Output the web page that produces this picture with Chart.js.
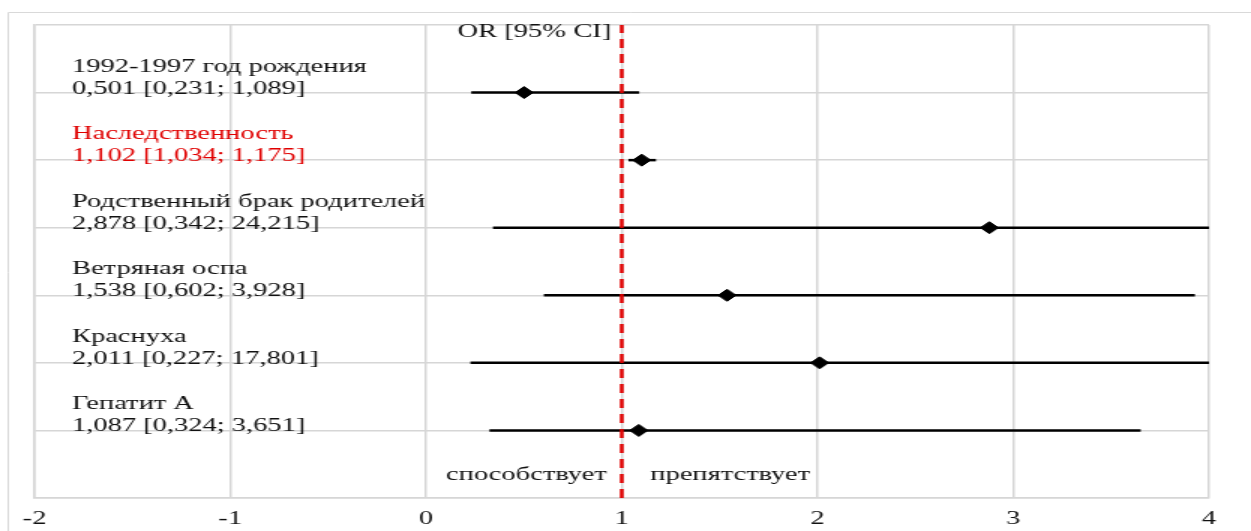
<!DOCTYPE html>
<html>
<head>
<meta charset="utf-8">
<script src="https://cdn.jsdelivr.net/npm/chart.js@4.4.1/dist/chart.umd.min.js"></script>
<style>
    html, body { margin: 0; padding: 0; background: #fff; overflow: hidden; }
    /* the original picture is stretched sideways, so the whole chart is too */
    #wrap { width: 834px; height: 531px; transform: scaleX(1.5); transform-origin: 0 0; }
</style>
</head>
<body>
<div id="wrap"><canvas id="myChart"></canvas></div>
<script>
const factors = ['1992-1997 год рождения', 'Наследственность', 'Родственный брак родителей', 'Ветряная оспа', 'Краснуха', 'Гепатит А'];
const oddsRatio = [0.501, 1.102, 2.878, 1.538, 2.011, 1.087];
const ciLow = [0.231, 1.034, 0.342, 0.602, 0.227, 0.324];
const ciHigh = [1.089, 1.175, 24.215, 3.928, 17.801, 3.651];
const xTicks = [-2, -1, 0, 1, 2, 3, 4];
const highlighted = 'Наследственность';

const serif = '"Liberation Serif", "Times New Roman", serif';
const red = '#e00000';

// rows go from top (6) to bottom (1)
const rowY = factors.map((f, i) => factors.length - i);

function fmt(v) {
    return v.toFixed(3).replace('.', ',');
}

const ciSets = factors.map((f, i) => {
    return {
        type: 'line',
        label: f,
        data: [{ x: ciLow[i], y: rowY[i] }, { x: ciHigh[i], y: rowY[i] }],
        borderColor: '#000',
        borderWidth: 2.5,
        pointRadius: 0,
        order: 2
    };
});

const textPlugin = {
    id: 'texts',
    beforeDraw(chart) {
        const ctx = chart.ctx;
        ctx.save();
        ctx.strokeStyle = '#d9d9d9';
        ctx.lineWidth = 1;
        ctx.beginPath();
        ctx.moveTo(5.5, chart.height + 5);
        ctx.lineTo(5.5, 12.5);
        ctx.lineTo(chart.width + 5, 12.5);
        ctx.stroke();
        ctx.restore();
    },
    afterDraw(chart) {
        const ctx = chart.ctx;
        const x = chart.scales.x;
        const y = chart.scales.y;
        const left = chart.chartArea.left + 25;
        const one = x.getPixelForValue(1);
        ctx.save();
        ctx.font = '19px ' + serif;
        ctx.textBaseline = 'alphabetic';
        factors.forEach((f, i) => {
            const py = y.getPixelForValue(rowY[i]);
            ctx.fillStyle = f === highlighted ? red : '#111';
            ctx.textAlign = 'left';
            ctx.fillText(f, left, py - 21);
            ctx.fillText(fmt(oddsRatio[i]) + ' [' + fmt(ciLow[i]) + '; ' + fmt(ciHigh[i]) + ']', left, py + 1);
        });
        ctx.fillStyle = '#111';
        ctx.textAlign = 'right';
        ctx.fillText('OR [95% CI]', one - 7, chart.chartArea.top + 12);
        ctx.fillText('способствует', one - 10, y.getPixelForValue(0) - 18);
        ctx.textAlign = 'left';
        ctx.fillText('препятствует', one + 19, y.getPixelForValue(0) - 18);
        ctx.restore();
    }
};

const ctx = document.getElementById('myChart').getContext('2d');

const chart = new Chart(ctx, { //eslint-disable-line
    type: 'scatter',
    data: {
        datasets: [
            {
                label: 'OR',
                data: oddsRatio.map((v, i) => ({ x: v, y: rowY[i] })),
                pointStyle: 'rectRot',
                pointRadius: 6,
                backgroundColor: '#000',
                borderColor: '#000',
                borderWidth: 1,
                order: 0
            },
            {
                type: 'line',
                label: 'OR = 1',
                data: [{ x: 1, y: 0 }, { x: 1, y: factors.length + 1 }],
                borderColor: red,
                borderWidth: 2.5,
                borderDash: [9, 6],
                pointRadius: 0,
                order: 1
            },
            ...ciSets
        ]
    },
    options: {
        responsive: true,
        maintainAspectRatio: false,
        animation: false,
        layout: { padding: { left: 23, top: 25, right: 28, bottom: 0 } },
        plugins: {
            legend: { display: false },
            tooltip: { enabled: false }
        },
        scales: {
            x: {
                type: 'linear',
                min: xTicks[0],
                max: xTicks[xTicks.length - 1],
                afterBuildTicks: (axis) => {
                    axis.ticks = xTicks.map((v) => ({ value: v }));
                },
                afterFit: (axis) => {
                    axis.height = 33;
                },
                grid: { color: '#d6d6d6', lineWidth: 1.5, drawTicks: false },
                border: { color: '#d6d6d6', width: 1.5 },
                ticks: {
                    padding: 10,
                    color: '#111',
                    font: { family: serif, size: 19 }
                }
            },
            y: {
                type: 'linear',
                min: 0,
                max: factors.length + 1,
                ticks: { display: false, stepSize: 1 },
                grid: { color: '#d6d6d6', lineWidth: 1.5, drawTicks: false },
                border: { color: '#d6d6d6', width: 1.5 }
            }
        }
    },
    plugins: [textPlugin]
});
</script>
</body>
</html>
